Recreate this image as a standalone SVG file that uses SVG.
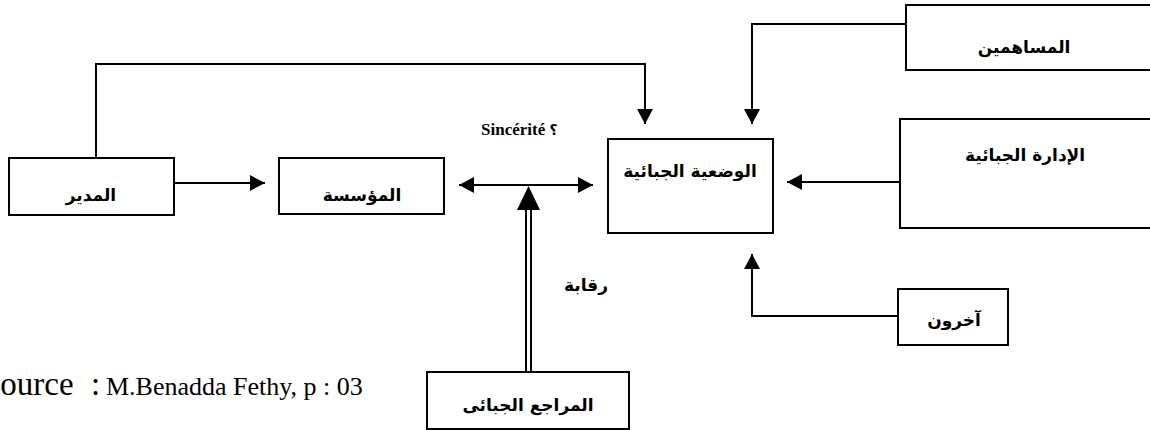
<svg xmlns="http://www.w3.org/2000/svg" width="1150" height="430" viewBox="0 0 1150 430">
<style>
.box{fill:#fff;stroke:#000;stroke-width:2}
.ln{fill:none;stroke:#000;stroke-width:2}
.ar{font-family:"DejaVu Sans",sans-serif;font-weight:bold;font-size:17px;fill:#000;text-anchor:middle}
.lat{font-family:"Liberation Serif",serif;fill:#000}
.src{font-family:"Liberation Serif",serif;fill:#000;font-size:33px}
</style>
<defs>
<marker id="ah" markerUnits="userSpaceOnUse" markerWidth="16" markerHeight="16" refX="15" refY="8" orient="auto-start-reverse" viewBox="0 0 16 16">
<path d="M0,0 L15,8 L0,16 z" fill="#000"/>
</marker>
</defs>
<g id="connectors">
<polyline class="ln" points="96,158 96,64 645,64 645,124" marker-end="url(#ah)"/>
<polyline class="ln" points="906,24 752,24 752,124" marker-end="url(#ah)"/>
<line class="ln" x1="174" y1="183" x2="265" y2="183" marker-end="url(#ah)"/>
<line class="ln" x1="459" y1="185" x2="593" y2="185" marker-start="url(#ah)" marker-end="url(#ah)"/>
<line class="ln" x1="900" y1="182" x2="787" y2="182" marker-end="url(#ah)"/>
<polyline class="ln" points="898,316 752,316 752,254" marker-end="url(#ah)"/>
<line x1="526" y1="208" x2="526" y2="372" stroke="#000" stroke-width="2"/>
<line x1="531" y1="208" x2="531" y2="372" stroke="#000" stroke-width="2"/>
<polygon points="528.5,186 517,210 540,210" fill="#000"/>
</g>
<g id="n-modir"><rect class="box" x="9" y="158" width="165" height="57"/><text class="ar" x="91" y="201">المدير</text></g>
<g id="n-moassasa"><rect class="box" x="279" y="158" width="165" height="56"/><text class="ar" x="362" y="201">المؤسسة</text></g>
<g id="n-wadiya"><rect class="box" x="608" y="139" width="165" height="94"/><text class="ar" x="690" y="177">الوضعية الجبائية</text></g>
<g id="n-mosahimin"><rect class="box" x="906" y="5" width="260" height="65"/><text class="ar" x="1024" y="53">المساهمين</text></g>
<g id="n-idara"><rect class="box" x="900" y="119" width="260" height="109"/><text class="ar" x="1025" y="161">الإدارة الجبائية</text></g>
<g id="n-akharoun"><rect class="box" x="898" y="289" width="110" height="56"/><text class="ar" x="954" y="326">آخرون</text></g>
<g id="n-moraji"><rect class="box" x="427" y="372" width="202" height="57"/><text class="ar" x="528" y="411">المراجع الجبائى</text></g>
<text class="ar" x="586" y="291">رقابة</text>
<text class="lat" x="481" y="135" font-size="17" font-weight="bold">Sincérité <tspan font-family="DejaVu Sans,sans-serif" font-size="14">؟</tspan></text>
<text class="src" x="-18" y="395">Source<tspan x="91">:</tspan></text>
<text class="lat" x="106" y="395" font-size="26">M.Benadda Fethy, p : 03</text>
</svg>
